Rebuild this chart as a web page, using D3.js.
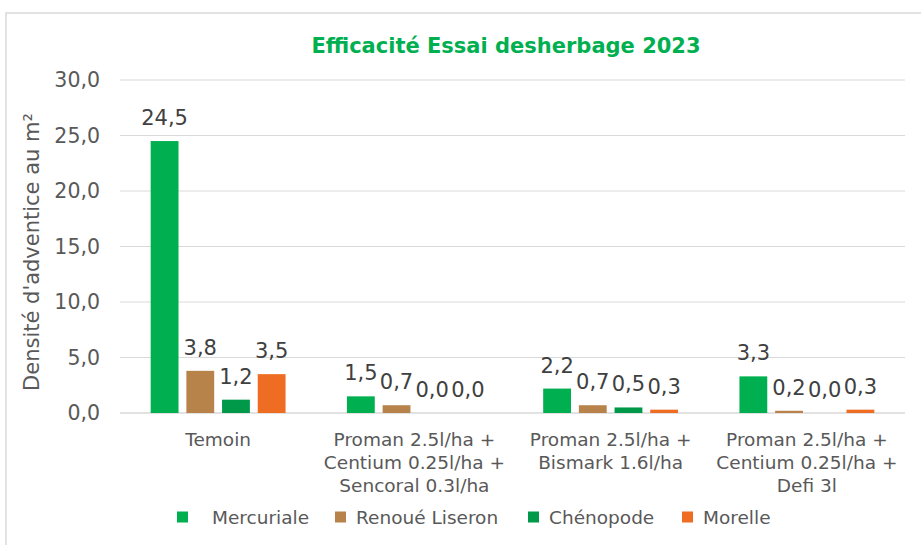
<!DOCTYPE html>
<html>
<head>
<meta charset="utf-8">
<script src="https://cdn.jsdelivr.net/npm/d3@7"></script>
<style>
  body { margin: 0; background: #fff; }
  svg text { font-family: "DejaVu Sans", Verdana, sans-serif; }
</style>
</head>
<body>
<svg id="chart" width="921" height="545"></svg>
<script>
// donnees
const categories = [
  ["Temoin"],
  ["Proman 2.5l/ha +", "Centium 0.25l/ha +", "Sencoral 0.3l/ha"],
  ["Proman 2.5l/ha +", "Bismark 1.6l/ha"],
  ["Proman 2.5l/ha +", "Centium 0.25l/ha +", "Defi 3l"]
];
const series = ["Mercuriale", "Renoué Liseron", "Chénopode", "Morelle"];
const mercuriale = [24.5, 1.5, 2.2, 3.3];
const renoue = [3.8, 0.7, 0.7, 0.2];
const chenopode = [1.2, 0.0, 0.5, 0.0];
const morelle = [3.5, 0.0, 0.3, 0.3];
const yTicks = [0, 5, 10, 15, 20, 25, 30];
const colors = ["#00b050", "#b8834b", "#00994a", "#ee6d22"];

const values = [mercuriale, renoue, chenopode, morelle];
const fmt = d => d3.format(".1f")(d).replace(".", ",");

const svg = d3.select("#chart");

// cadre
svg.append("rect").attr("x", 6).attr("y", 13).attr("width", 930).attr("height", 560)
  .attr("fill", "none").attr("stroke", "#d9d9d9").attr("stroke-width", 1.5);

svg.append("text").text("Efficacité Essai desherbage 2023")
  .attr("x", 506).attr("y", 53).attr("text-anchor", "middle")
  .attr("font-size", 21).attr("font-weight", "bold").attr("fill", "#00b050");

const x0 = d3.scaleBand().domain(d3.range(categories.length)).range([120, 905]);
const x1 = d3.scaleBand().domain(d3.range(series.length)).range([0, x0.bandwidth()])
  .paddingInner(0.22).paddingOuter(0.86);
const y = d3.scaleLinear().domain([0, 30]).range([413, 80]);

// grille
svg.append("g").selectAll("line").data(yTicks).enter().append("line")
  .attr("x1", 120).attr("x2", 905)
  .attr("y1", d => y(d)).attr("y2", d => y(d))
  .attr("stroke", "#d9d9d9").attr("stroke-width", d => d == 0 ? 1.5 : 1);

const yAxis = svg.append("g").attr("transform", "translate(120,0)")
  .call(d3.axisLeft(y).tickValues(yTicks).tickFormat(fmt).tickSize(0).tickPadding(20));
yAxis.select(".domain").remove();
yAxis.selectAll("text").attr("font-size", 20.5).attr("fill", "#595959")
  .attr("font-family", "DejaVu Sans");

svg.append("text").text("Densité d'adventice au m²")
  .attr("transform", "translate(39,252) rotate(-90)")
  .attr("text-anchor", "middle").attr("font-size", 21).attr("fill", "#595959");

// barres
const rows = [];
values.forEach((vals, s) => vals.forEach((v, c) => rows.push({s: s, c: c, v: v})));

svg.append("g").selectAll("rect").data(rows).enter().append("rect")
  .attr("x", d => x0(d.c) + x1(d.s))
  .attr("y", d => y(d.v))
  .attr("width", x1.bandwidth())
  .attr("height", d => y(0) - y(d.v))
  .attr("fill", d => colors[d.s]);

svg.append("g").selectAll("text").data(rows).enter().append("text")
  .text(d => fmt(d.v))
  .attr("x", d => x0(d.c) + x1(d.s) + x1.bandwidth() / 2)
  .attr("y", d => y(d.v) - 16)
  .attr("text-anchor", "middle").attr("font-size", 21).attr("fill", "#404040");

// etiquettes categories
const cat = svg.append("g").selectAll("text").data(categories).enter().append("text")
  .attr("text-anchor", "middle").attr("font-size", 18.5).attr("fill", "#595959");
cat.selectAll("tspan").data((d, i) => d.map(t => ({t: t, i: i}))).enter().append("tspan")
  .attr("x", d => x0(d.i) + x0.bandwidth() / 2)
  .attr("y", (d, j) => 446 + j * 23)
  .text(d => d.t);

// legende
const legX = [177, 335, 528, 682];
const leg = svg.append("g").selectAll("g").data(series).enter().append("g")
  .attr("transform", (d, i) => `translate(${legX[i]},517)`);
leg.append("rect").attr("x", 0).attr("y", -5.5).attr("width", 11).attr("height", 11)
  .attr("fill", (d, i) => colors[i]);
leg.append("text").text(d => d).attr("x", (d, i) => i == 0 ? 35 : 21).attr("y", 6.5)
  .attr("font-size", 18.5).attr("fill", "#595959");
</script>
</body>
</html>
